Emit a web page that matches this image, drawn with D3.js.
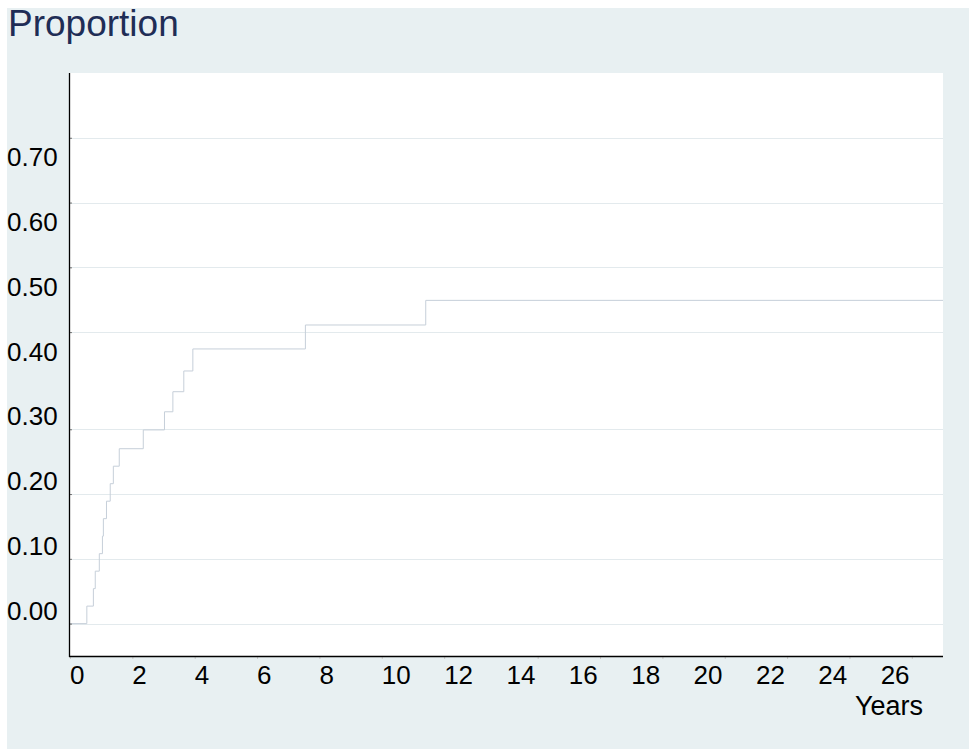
<!DOCTYPE html>
<html>
<head>
<meta charset="utf-8">
<script src="https://cdn.jsdelivr.net/npm/d3@7"></script>
<style>
  body { margin: 0; background: #fff; }
  text { font-family: "Liberation Sans", Arial, sans-serif; }
</style>
</head>
<body>
<svg id="chart"></svg>
<script>
// Step function (cumulative proportion by years)
const stepYears = [0, 0.54, 0.75, 0.81, 0.94, 1.04, 1.07, 1.17, 1.29, 1.39, 1.58, 2.35, 3.03, 3.30, 3.65, 3.94, 7.55, 11.41];
const stepProps = [0, 0.027, 0.054, 0.081, 0.108, 0.135, 0.162, 0.189, 0.216, 0.243, 0.270, 0.299, 0.327, 0.358, 0.390, 0.424, 0.461, 0.499];

// Axis labels and tick marks (marks and labels sit at different values in the original)
const yLabels = [0, 0.1, 0.2, 0.3, 0.4, 0.5, 0.6, 0.7];
const yGrid = [0, 0.1, 0.2, 0.3, 0.45, 0.55, 0.65, 0.75];
const xLabels = [0, 2, 4, 6, 8, 10, 12, 14, 16, 18, 20, 22, 24, 26];
const xTicks = [0, 2, 4, 6, 8, 10, 12, 15, 17, 19, 21, 23, 25, 27];

const width = 969, height = 749;
const plot = { left: 70, right: 943, top: 73, bottom: 656 };

const svg = d3.select('#chart').attr('width', width).attr('height', height);

// Graph region background
svg.append('rect')
  .attr('x', 7).attr('y', 8)
  .attr('width', width - 7).attr('height', height - 8)
  .attr('fill', '#e8f0f2');

// Plot region
svg.append('rect')
  .attr('x', plot.left).attr('y', plot.top)
  .attr('width', plot.right - plot.left).attr('height', plot.bottom - plot.top)
  .attr('fill', '#fff');

const x = d3.scaleLinear().domain([0, 28]).range([plot.left, plot.right]);
const y = d3.scaleLinear().domain([-0.05, 0.85]).range([plot.bottom, plot.top]);

// Gridlines
svg.append('g')
  .selectAll('line')
  .data(yGrid)
  .join('line')
  .attr('x1', plot.left).attr('x2', plot.right)
  .attr('y1', d => Math.round(y(d)) + 0.5).attr('y2', d => Math.round(y(d)) + 0.5)
  .attr('stroke', '#e3eaed')
  .attr('stroke-width', 1);

// Step line
const data = stepYears.map((t, i) => [t, stepProps[i]]);
data.push([28, stepProps[stepProps.length - 1]]);

const line = d3.line()
  .x(d => x(d[0]))
  .y(d => y(d[1]))
  .curve(d3.curveStepAfter);

svg.append('path')
  .datum(data)
  .attr('d', line)
  .attr('fill', 'none')
  .attr('stroke', '#c6cfd9')
  .attr('stroke-width', 1);

// Y axis: tick marks + line
const yAxis = d3.axisLeft(y).tickValues(yGrid).tickSize(-2).tickFormat('');
const gy = svg.append('g').attr('transform', `translate(${plot.left},0)`).call(yAxis);
gy.select('.domain').remove();
gy.selectAll('.tick line').attr('stroke', '#777');
svg.append('line')
  .attr('x1', plot.left - 0.5).attr('x2', plot.left - 0.5)
  .attr('y1', plot.top).attr('y2', plot.bottom + 1)
  .attr('stroke', '#000').attr('stroke-width', 1.3);

// X axis: tick marks + line
const xAxis = d3.axisBottom(x).tickValues(xTicks).tickSize(3).tickFormat('');
const gx = svg.append('g').attr('transform', `translate(0,${plot.bottom})`).call(xAxis);
gx.select('.domain').remove();
gx.selectAll('.tick line').attr('stroke', '#c8c8c8');
svg.append('line')
  .attr('x1', plot.left - 1).attr('x2', plot.right)
  .attr('y1', plot.bottom + 0.5).attr('y2', plot.bottom + 0.5)
  .attr('stroke', '#000').attr('stroke-width', 1.3);

// Y labels
svg.append('g')
  .selectAll('text')
  .data(yLabels)
  .join('text')
  .attr('x', 7)
  .attr('y', d => y(d) - 4)
  .attr('font-size', 26)
  .attr('fill', '#000')
  .text(d => d3.format('.2f')(d));

// X labels
svg.append('g')
  .selectAll('text')
  .data(xLabels)
  .join('text')
  .attr('x', d => x(d))
  .attr('y', 684)
  .attr('font-size', 26)
  .attr('fill', '#000')
  .text(d => d);

// Axis title
svg.append('text')
  .attr('x', 923).attr('y', 715)
  .attr('text-anchor', 'end')
  .attr('font-size', 27)
  .attr('fill', '#000')
  .text('Years');

// Chart title
svg.append('text')
  .attr('x', 8).attr('y', 36)
  .attr('font-size', 37)
  .attr('fill', '#1f2d56')
  .text('Proportion');
</script>
</body>
</html>
